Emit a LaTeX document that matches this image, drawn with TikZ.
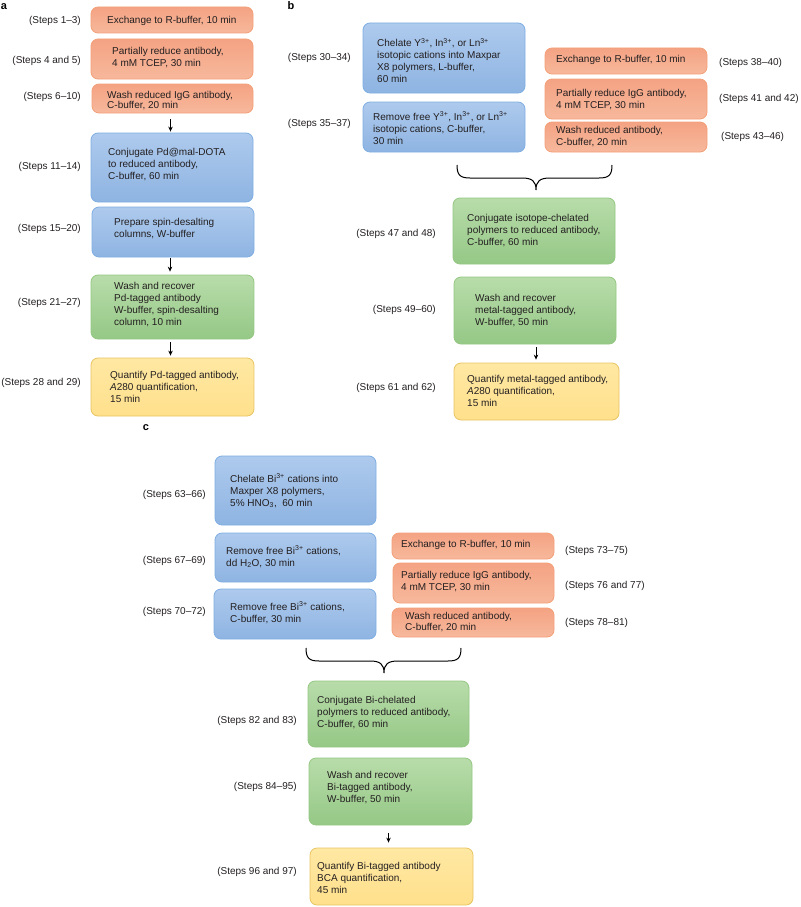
\documentclass[tikz,border=0pt]{standalone}
\usepackage{fontspec}
\setmainfont{Liberation Sans}
\usetikzlibrary{arrows.meta}
\definecolor{orTop}{HTML}{F4A383}
\definecolor{orBot}{HTML}{F7B89C}
\definecolor{orBorder}{HTML}{F3A079}
\definecolor{blTop}{HTML}{AECAED}
\definecolor{blBot}{HTML}{8EB4E2}
\definecolor{blBorder}{HTML}{7FAEE3}
\definecolor{grTop}{HTML}{B8DCAA}
\definecolor{grBot}{HTML}{95C886}
\definecolor{grBorder}{HTML}{94C882}
\definecolor{yeTop}{HTML}{FFE8A3}
\definecolor{yeBot}{HTML}{FFE08C}
\definecolor{yeBorder}{HTML}{E8C462}
\definecolor{txtc}{HTML}{231F20}
\tikzset{
  boxbase/.style={rounded corners=7pt, line width=0.8pt, inner sep=0pt},
  obox/.style={boxbase, draw=orBorder, top color=orTop, bottom color=orBot},
  bbox/.style={boxbase, draw=blBorder, top color=blTop, bottom color=blBot},
  gbox/.style={boxbase, draw=grBorder, top color=grTop, bottom color=grBot},
  ybox/.style={boxbase, draw=yeBorder, top color=yeTop, bottom color=yeBot},
  txt/.style={anchor=west, align=left, inner sep=0pt, font=\fontsize{10}{12}\selectfont, text=txtc},
  lbl/.style={inner sep=0pt, font=\fontsize{10}{12}\selectfont, text=txtc},
  lblr/.style={lbl, anchor=east},
  lbll/.style={lbl, anchor=west},
  arr/.style={-{Stealth[length=5pt,width=4.5pt]}, line width=0.9pt, draw=black},
  bracepath/.style={line width=1pt, draw=black},
  panel/.style={font=\fontsize{11}{13}\selectfont\bfseries, inner sep=0pt, text=black}
}
\newcommand\mybox[9]{%
  \node[#2, minimum width={#5pt-#3pt}, minimum height={#6pt-#4pt}] (#1) at ({(#3+#5)/2},{(#4+#6)/2}) {};
  \node[txt] (#1t) at (#7,#8) {#9};}
\newcommand\upx[1]{\textsuperscript{#1}}
\begin{document}
\begin{tikzpicture}[x=1pt,y=-1pt]
\useasboundingbox (0,0) rectangle (800,907);
% ---------------- panel a
\node[panel] (pa) at (4,7) {a};
\mybox{a1}{obox}{91}{7}{253}{33}{107}{21}{Exchange to R-buffer, 10 min}
\mybox{a2}{obox}{91}{39}{253}{79}{112}{57.5}{Partially reduce antibody,\\4 mM TCEP, 30 min}
\mybox{a3}{obox}{92}{84}{253}{113}{107}{101}{Wash reduced IgG antibody,\\[-2pt]C-buffer, 20 min}
\mybox{a4}{bbox}{91}{133}{253}{202}{108}{165}{Conjugate Pd@mal-DOTA\\to reduced antibody,\\C-buffer, 60 min}
\mybox{a5}{bbox}{92}{207}{254}{257}{114}{229}{Prepare spin-desalting\\columns, W-buffer}
\mybox{a6}{gbox}{91}{275}{254}{339}{114}{305}{Wash and recover\\Pd-tagged antibody\\W-buffer, spin-desalting\\column, 10 min}
\mybox{a7}{ybox}{91}{358}{254}{416}{110}{387}{Quantify Pd-tagged antibody,\\\textit{A}280 quantification,\\15 min}
\node[lblr] (la1) at (81,21) {(Steps 1–3)};
\node[lblr] (la2) at (81,61) {(Steps 4 and 5)};
\node[lblr] (la3) at (81,97) {(Steps 6–10)};
\node[lblr] (la4) at (81,167) {(Steps 11–14)};
\node[lblr] (la5) at (81,229) {(Steps 15–20)};
\node[lblr] (la6) at (81,303) {(Steps 21–27)};
\node[lblr] (la7) at (81,383) {(Steps 28 and 29)};
\draw[arr, shorten <=6pt, shorten >=1pt] ([xshift=-2pt]a3.south) -- ([xshift=-2pt]a3.south |- a4.north);
\draw[arr, shorten <=1pt, shorten >=3pt] ([xshift=-3pt]a5.south) -- ([xshift=-3pt]a5.south |- a6.north);
\draw[arr, shorten <=3pt, shorten >=2pt] ([xshift=-2pt]a6.south) -- ([xshift=-2pt]a6.south |- a7.north);
% ---------------- panel b
\node[panel] (pb) at (291,6) {b};
\mybox{b1}{bbox}{363}{23}{525}{93}{377}{60.5}{Chelate Y\upx{3+}, In\upx{3+}, or Ln\upx{3+}\\isotopic cations into Maxpar\\X8 polymers, L-buffer,\\60 min}
\mybox{b2}{bbox}{363}{102}{525}{152}{373}{128}{Remove free Y\upx{3+}, In\upx{3+}, or Ln\upx{3+}\\isotopic cations, C-buffer,\\30 min}
\mybox{b3}{obox}{545}{48}{707}{74}{556}{60}{Exchange to R-buffer, 10 min}
\mybox{b4}{obox}{545}{79}{707}{119}{556}{99.5}{Partially reduce IgG antibody,\\4 mM TCEP, 30 min}
\mybox{b5}{obox}{545}{122}{707}{152}{556}{137}{Wash reduced antibody,\\C-buffer, 20 min}
\mybox{b6}{gbox}{453}{198}{615}{264}{467}{230.5}{Conjugate isotope-chelated\\polymers to reduced antibody,\\C-buffer, 60 min}
\mybox{b7}{gbox}{454}{277}{616}{344}{475}{310.5}{Wash and recover\\metal-tagged antibody,\\W-buffer, 50 min}
\mybox{b8}{ybox}{454}{363}{619}{420}{467}{391}{Quantify metal-tagged antibody,\\\textit{A}280 quantification,\\15 min}
\node[lblr] (lb1) at (351,58) {(Steps 30–34)};
\node[lblr] (lb2) at (351,124) {(Steps 35–37)};
\node[lbll] (lb3) at (719,63) {(Steps 38–40)};
\node[lbll] (lb4) at (719,99) {(Steps 41 and 42)};
\node[lbll] (lb5) at (721,137) {(Steps 43–46)};
\node[lblr] (lb6) at (436,234) {(Steps 47 and 48)};
\node[lblr] (lb7) at (436,310) {(Steps 49–60)};
\node[lblr] (lb8) at (436,388) {(Steps 61 and 62)};
\coordinate (bbL) at (457,165);
\coordinate (bbT) at (536,190);
\coordinate (bbR) at (612,165);
\draw[bracepath] (bbL) .. controls (457,175) and (460,178) .. (470,178) -- (522,178)
  .. controls (532,178) and (536,181) .. (bbT)
  .. controls (536,181) and (540,178) .. (550,178) -- (599,178)
  .. controls (609,178) and (612,175) .. (bbR);
\draw[arr, shorten <=3pt, shorten >=3pt] ([xshift=1pt]b7.south) -- ([xshift=1pt]b7.south |- b8.north);
% ---------------- panel c
\node[panel] (pc) at (146,428) {c};
\mybox{c1}{bbox}{215}{456}{376}{525}{230}{491}{Chelate Bi\upx{3+} cations into\\Maxper X8 polymers,\\5\% HNO\textsubscript{3},\ \ 60 min}
\mybox{c2}{bbox}{215}{533}{376}{582}{226}{556.5}{Remove free Bi\upx{3+} cations,\\dd H\textsubscript{2}O, 30 min}
\mybox{c3}{bbox}{214}{589}{376}{639}{230}{612.5}{Remove free Bi\upx{3+} cations,\\C-buffer, 30 min}
\mybox{c4}{obox}{392}{533}{554}{559}{401}{545}{Exchange to R-buffer, 10 min}
\mybox{c5}{obox}{393}{563}{554}{603}{401}{581.5}{Partially reduce IgG antibody,\\4 mM TCEP, 30 min}
\mybox{c6}{obox}{392}{608}{554}{637}{405}{622.5}{Wash reduced antibody,\\[-1pt]C-buffer, 20 min}
\mybox{c7}{gbox}{308}{681}{469}{747}{317}{713}{Conjugate Bi-chelated\\polymers to reduced antibody,\\C-buffer, 60 min}
\mybox{c8}{gbox}{309}{758}{472}{825}{327}{788}{Wash and recover\\Bi-tagged antibody,\\W-buffer, 50 min}
\mybox{c9}{ybox}{310}{848}{473}{905}{317}{878}{Quantify Bi-tagged antibody\\BCA quantification,\\45 min}
\node[lblr] (lc1) at (206,495) {(Steps 63–66)};
\node[lblr] (lc2) at (206,561) {(Steps 67–69)};
\node[lblr] (lc3) at (206,612) {(Steps 70–72)};
\node[lbll] (lc4) at (565,551) {(Steps 73–75)};
\node[lbll] (lc5) at (565,586) {(Steps 76 and 77)};
\node[lbll] (lc6) at (565,623) {(Steps 78–81)};
\node[lblr] (lc7) at (297,721) {(Steps 82 and 83)};
\node[lblr] (lc8) at (297,787) {(Steps 84–95)};
\node[lblr] (lc9) at (297,872) {(Steps 96 and 97)};
\coordinate (cbL) at (306,648);
\coordinate (cbT) at (384,673);
\coordinate (cbR) at (461,648);
\draw[bracepath] (cbL) .. controls (306,658) and (309,661) .. (319,661) -- (370,661)
  .. controls (380,661) and (384,664) .. (cbT)
  .. controls (384,664) and (388,661) .. (398,661) -- (448,661)
  .. controls (458,661) and (461,658) .. (cbR);
\draw[arr, shorten <=8pt, shorten >=5pt] ([xshift=-2pt]c8.south) -- ([xshift=-2pt]c8.south |- c9.north);
\end{tikzpicture}
\end{document}
